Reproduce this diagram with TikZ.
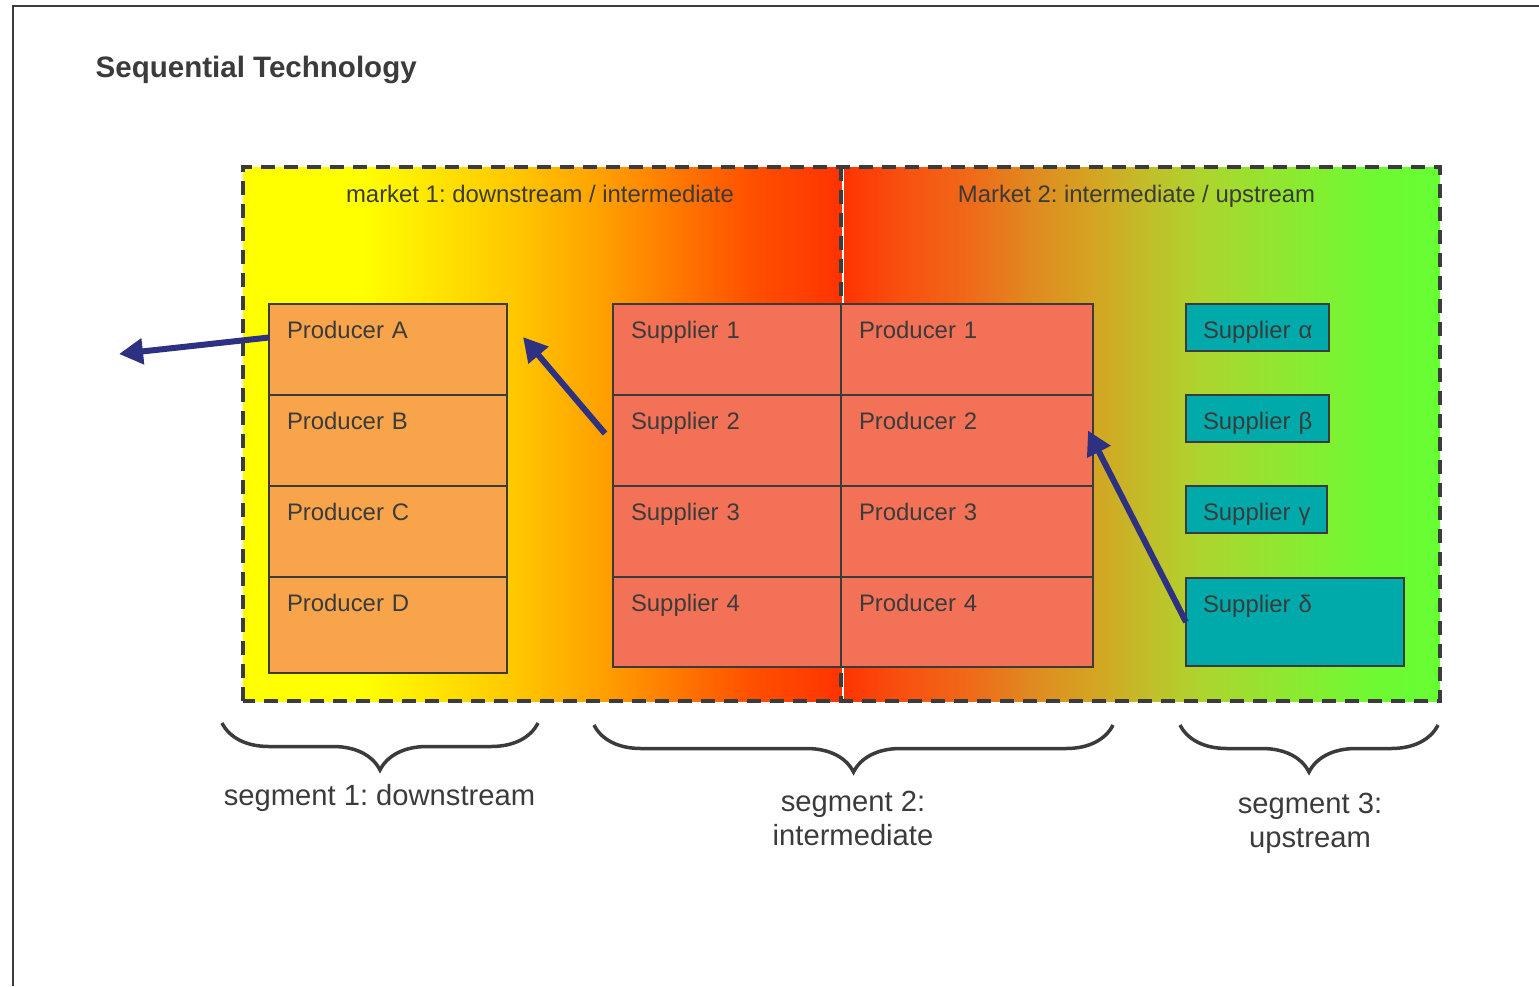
\documentclass[tikz,border=0pt]{standalone}
\usepackage{fontspec}
\setmainfont{Liberation Sans}
\usepackage{xcolor}
\usetikzlibrary{arrows.meta,positioning,decorations.pathreplacing}
\frenchspacing
\definecolor{inkgray}{HTML}{3B3B3B}
\definecolor{prodorange}{HTML}{F8A44B}
\definecolor{cellred}{HTML}{F37257}
\definecolor{upteal}{HTML}{00AAAA}
\definecolor{flownavy}{HTML}{2E3181}
% market 1 colours
\definecolor{mA}{HTML}{FFFF00}
\definecolor{mB}{HTML}{FFC800}
\definecolor{mC}{HTML}{FFA000}
\definecolor{mD}{HTML}{FF8000}
\definecolor{mE}{HTML}{FF5000}
\definecolor{mF}{HTML}{FF3300}
% market 2 colours
\definecolor{nB}{HTML}{F85010}
\definecolor{nC}{HTML}{F06818}
\definecolor{nD}{HTML}{E08A20}
\definecolor{nE}{HTML}{D4A422}
\definecolor{nF}{HTML}{C0C02A}
\definecolor{nG}{HTML}{AED42E}
\definecolor{nH}{HTML}{88EC30}
\definecolor{nI}{HTML}{70F833}
\definecolor{nJ}{HTML}{66FF33}
\pgfdeclarehorizontalshading{marketone}{100bp}{color(0bp)=(mA); color(25bp)=(mA); color(35bp)=(mA);
  color(47.5bp)=(mB); color(55bp)=(mC); color(60bp)=(mD); color(67.5bp)=(mE); color(75bp)=(mF); color(100bp)=(mF)}
\pgfdeclarehorizontalshading{markettwo}{100bp}{color(0bp)=(mF); color(25bp)=(mF); color(30bp)=(nB);
  color(35.5bp)=(nC); color(41bp)=(nD); color(46bp)=(nE); color(51bp)=(nF); color(55bp)=(nG);
  color(63.5bp)=(nH); color(69bp)=(nI); color(75bp)=(nJ); color(100bp)=(nJ)}

\begin{document}
\begin{tikzpicture}[font=\fontsize{6.8}{8}\selectfont,
  cell/.style={draw=inkgray, line width=0.02cm, anchor=north west, align=left, text width=#1,
    inner xsep=0.18cm, inner ysep=0pt, outer sep=0pt, text height=0.34cm, text depth=0.57cm, text=inkgray},
  upbox/.style={cell=#1, fill=upteal, inner xsep=0.17cm, text depth=0.13cm},
  flow/.style={draw=flownavy, line width=0.06cm, -{Triangle[length=0.24cm,width=0.25cm]}},
  brace/.style={draw=inkgray, line width=0.035cm, decorate, decoration={brace, amplitude=0.47cm}},
  seglabel/.style={anchor=base, align=center, text=inkgray, font=\fontsize{8.3}{9.6}\selectfont}]
  \useasboundingbox (0,0) rectangle (15.39,9.86);
  % page frame
  \draw[inkgray, line width=0.025cm] (15.39,9.80) -- (0.13,9.80) -- (0.13,0);
  \node[anchor=base west, inner sep=0pt, text=inkgray, font=\fontsize{8.4}{10}\selectfont\bfseries] (title) at (0.95,9.09) {Sequential Technology};

  % the two markets
  \shade[shading=marketone] (2.43,2.85) rectangle (8.41,8.19);
  \shade[shading=markettwo] (8.41,2.85) rectangle (14.40,8.19);
  \draw[white, line width=0.012cm] (8.43,2.85) -- (8.43,8.19);
  \draw[inkgray, line width=0.035cm, dash pattern=on 0.14cm off 0.09cm] (2.43,2.85) rectangle (14.40,8.19);
  \draw[inkgray, line width=0.035cm, dash pattern=on 0.14cm off 0.09cm] (8.41,8.19) -- (8.41,2.85);
  \node[anchor=base, text=inkgray] (mktOne) at (5.40,7.84) {market 1: downstream / intermediate};
  \node[anchor=base, text=inkgray] (mktTwo) at (11.365,7.84) {Market 2: intermediate / upstream};

  % segment 1
  \node[cell=2.02cm, fill=prodorange] (prodA) at (2.69,6.82) {Producer A};
  \node[cell=2.02cm, fill=prodorange, below=0pt of prodA] (prodB) {Producer B};
  \node[cell=2.02cm, fill=prodorange, below=0pt of prodB] (prodC) {Producer C};
  \node[cell=2.02cm, fill=prodorange, text depth=0.62cm, below=0pt of prodC] (prodD) {Producer D};

  % segment 2
  \node[cell=1.92cm, fill=cellred] (sup1) at (6.13,6.82) {Supplier 1};
  \node[cell=1.92cm, fill=cellred, below=0pt of sup1] (sup2) {Supplier 2};
  \node[cell=1.92cm, fill=cellred, below=0pt of sup2] (sup3) {Supplier 3};
  \node[cell=1.92cm, fill=cellred, text depth=0.56cm, below=0pt of sup3] (sup4) {Supplier 4};
  \node[cell=2.16cm, fill=cellred] (prod1) at (8.41,6.82) {Producer 1};
  \node[cell=2.16cm, fill=cellred, below=0pt of prod1] (prod2) {Producer 2};
  \node[cell=2.16cm, fill=cellred, below=0pt of prod2] (prod3) {Producer 3};
  \node[cell=2.16cm, fill=cellred, text depth=0.56cm, below=0pt of prod3] (prod4) {Producer 4};

  % segment 3
  \node[upbox=1.09cm] (supAlpha) at (11.86,6.82) {Supplier~α};
  \node[upbox=1.09cm] (supBeta) at (11.86,5.91) {Supplier~β};
  \node[upbox=1.07cm] (supGamma) at (11.86,5.00) {Supplier~γ};
  \node[upbox=1.84cm, text depth=0.54cm] (supDelta) at (11.86,4.08) {Supplier~δ};

  % flows
  \coordinate (exit) at (1.19,6.32);
  \coordinate (intoA) at (5.23,6.49);
  \draw[flow] ([yshift=0.12cm]prodA.west) -- (exit);
  \draw[flow] ([xshift=-0.08cm,yshift=0.07cm]sup2.west) -- (intoA);
  \draw[flow] (supDelta.west) -- ([xshift=-0.05cm,yshift=0.1cm]prod2.east);

  % segments
  \draw[brace] (5.38,2.63) -- (2.22,2.63);
  \draw[brace] (11.13,2.61) -- (5.94,2.61);
  \draw[brace] (14.38,2.61) -- (11.80,2.61);
  \node[seglabel] (segOne) at (3.795,1.81) {segment 1: downstream};
  \node[seglabel] (segTwo) at (8.53,1.41) {segment 2:\\intermediate};
  \node[seglabel] (segThree) at (13.10,1.39) {segment 3:\\upstream};
\end{tikzpicture}
\end{document}
